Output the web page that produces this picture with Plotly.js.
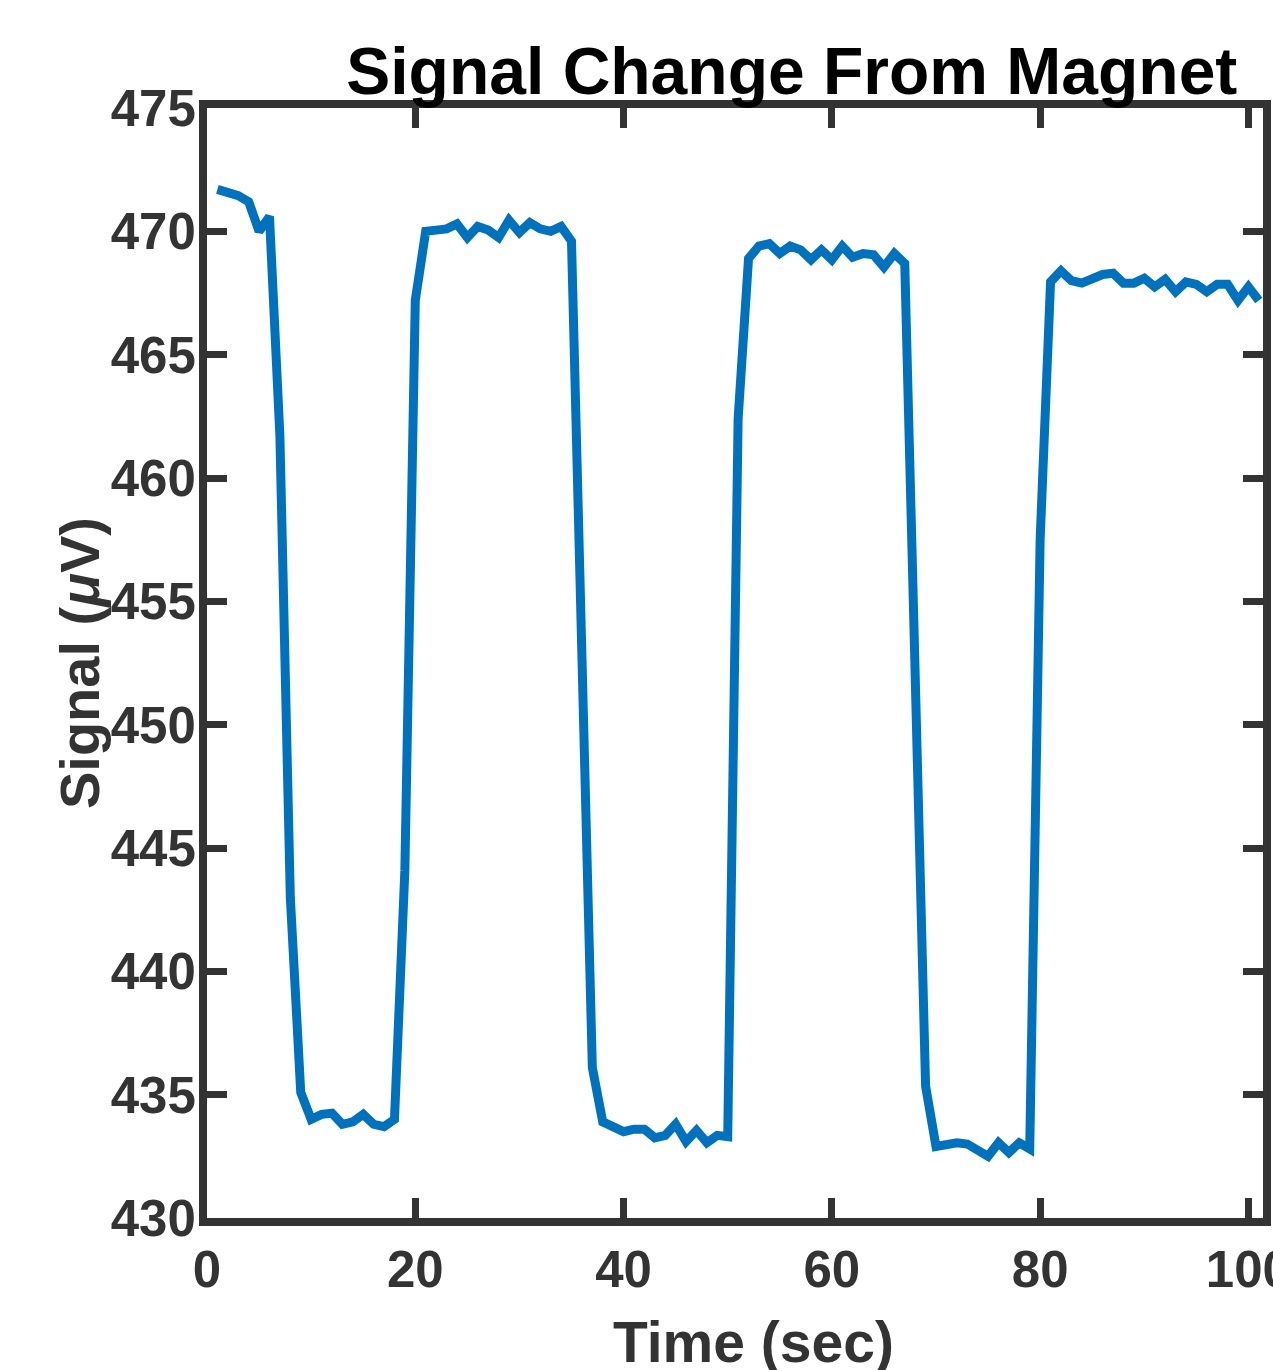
<!DOCTYPE html>
<html>
<head>
<meta charset="utf-8">
<script src="https://cdn.plot.ly/plotly-3.0.1.min.js"></script>
<style>
  html, body { margin: 0; padding: 0; background: #ffffff; }
  #chart { width: 1273px; height: 1370px; }
</style>
</head>
<body>
<div id="chart"></div>
<script>
// Time (sec)
const timeSec = [
  1, 2, 3, 4, 5, 6, 7, 8, 9, 10,
  11, 12, 13, 14, 15, 16, 17, 18, 19, 20,
  21, 22, 23, 24, 25, 26, 27, 28, 29, 30,
  31, 32, 33, 34, 35, 36, 37, 38, 39, 40,
  41, 42, 43, 44, 45, 46, 47, 48, 49, 50,
  51, 52, 53, 54, 55, 56, 57, 58, 59, 60,
  61, 62, 63, 64, 65, 66, 67, 68, 69, 70,
  71, 72, 73, 74, 75, 76, 77, 78, 79, 80,
  81, 82, 83, 84, 85, 86, 87, 88, 89, 90,
  91, 92, 93, 94, 95, 96, 97, 98, 99, 100,
  101
];

// Signal (µV)
const signalUV = [
  471.7, 471.55, 471.45, 471.2, 470.0, 470.6, 461.7, 443.0, 435.1, 434.0,
  434.2, 434.25, 433.8, 433.9, 434.2, 433.8, 433.7, 434.0, 444.1, 467.2,
  470.0, 470.05, 470.1, 470.3, 469.75, 470.2, 470.05, 469.75, 470.45, 469.95,
  470.35, 470.1, 470.0, 470.2, 469.6, 452.8, 436.1, 433.9, 433.7, 433.5,
  433.6, 433.6, 433.25, 433.35, 433.8, 433.1, 433.55, 433.05, 433.35, 433.3,
  462.4, 468.9, 469.4, 469.5, 469.1, 469.4, 469.25, 468.85, 469.25, 468.85,
  469.4, 468.95, 469.1, 469.05, 468.55, 469.1, 468.7, 452.0, 435.35, 432.9,
  432.95, 433.05, 433.0, 432.8, 432.5, 433.05, 432.65, 433.05, 432.8, 457.5,
  467.95, 468.4, 468.0, 467.9, 468.05, 468.25, 468.3, 467.9, 467.9, 468.1,
  467.75, 468.05, 467.55, 467.95, 467.85, 467.55, 467.85, 467.85, 467.2, 467.75,
  467.2
];

const xTickVals = [0, 20, 40, 60, 80, 100];
const yTickVals = [430, 435, 440, 445, 450, 455, 460, 465, 470, 475];

const chartTitle = 'Signal Change From Magnet';
const xLabel = 'Time (sec)';
const yLabel = 'Signal (<i>μ</i>V)';

const axisColor = '#333333';
const fontFamily = '"Liberation Sans", Arial, Helvetica, sans-serif';

const trace = {
  x: timeSec,
  y: signalUV,
  type: 'scatter',
  mode: 'lines',
  line: { color: '#0072BD', width: 9 },
  hoverinfo: 'x+y'
};

const axisCommon = {
  showgrid: false,
  zeroline: false,
  showline: true,
  linecolor: axisColor,
  linewidth: 8,
  mirror: 'ticks',
  ticks: 'inside',
  ticklen: 20,
  tickwidth: 7,
  tickcolor: axisColor,
  ticklabeloverflow: 'allow',
  tickfont: { family: fontFamily, size: 51, color: axisColor, weight: 'bold' },
  fixedrange: true
};

const layout = {
  width: 1273,
  height: 1370,
  paper_bgcolor: '#ffffff',
  plot_bgcolor: '#ffffff',
  margin: { l: 207, r: 10, t: 108, b: 152, pad: 0 },
  showlegend: false,
  title: {
    text: chartTitle,
    font: { family: fontFamily, size: 66, color: '#000000', weight: 'bold' },
    xref: 'container', yref: 'container',
    x: 0.622, xanchor: 'center',
    y: 0.948, yanchor: 'middle'
  },
  xaxis: Object.assign({}, axisCommon, {
    range: [0, 101.4],
    tickmode: 'array',
    tickvals: xTickVals,
    ticktext: xTickVals.map(String)
  }),
  yaxis: Object.assign({}, axisCommon, {
    range: [430, 475],
    tickmode: 'array',
    tickvals: yTickVals,
    ticktext: yTickVals.map(String),
    ticklabelstandoff: -7
  }),
  annotations: [
    {
      text: xLabel,
      xref: 'paper', yref: 'paper',
      x: 0.5, y: 0,
      xanchor: 'center', yanchor: 'middle',
      xshift: 18, yshift: -124,
      showarrow: false,
      font: { family: fontFamily, size: 57, color: axisColor, weight: 'bold' }
    },
    {
      text: yLabel,
      xref: 'paper', yref: 'paper',
      x: 0, y: 0.5,
      xanchor: 'center', yanchor: 'middle',
      xshift: -128, yshift: 0,
      textangle: -90,
      showarrow: false,
      font: { family: fontFamily, size: 56, color: axisColor, weight: 'bold' }
    }
  ]
};

Plotly.newPlot('chart', [trace], layout, { displayModeBar: false, staticPlot: true });
</script>
</body>
</html>
